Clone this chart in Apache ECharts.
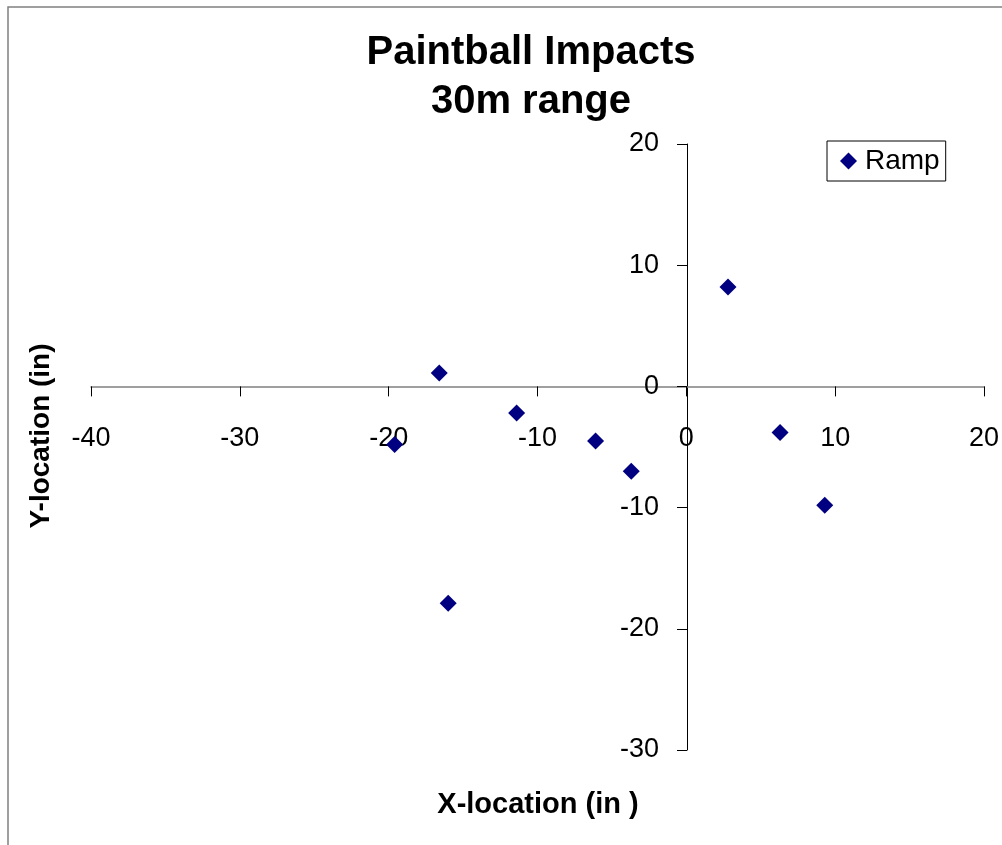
<!DOCTYPE html>
<html>
<head>
<meta charset="utf-8">
<script src="https://cdn.jsdelivr.net/npm/echarts@6/dist/echarts.min.js"></script>
<style>
  html, body { margin: 0; padding: 0; background: #fff; }
  #chart { width: 1002px; height: 845px; }
</style>
</head>
<body>
<div id="chart"></div>
<script>
const seriesName = 'Ramp';
const xValues = [2.8, -16.6, -11.4, -19.6, -6.1, -3.7, 6.3, 9.3, -16.0];
const yValues = [8.2, 1.1, -2.2, -4.8, -4.5, -7.0, -3.8, -9.8, -17.9];
const xTicks = [-40, -30, -20, -10, 0, 10, 20];
const yTicks = [-30, -20, -10, 0, 10, 20];

const font = "'Liberation Sans', Arial, sans-serif";
const points = xValues.map((x, i) => [x, yValues[i]]);

// grid box in pixels; the axes are shifted in to cross at zero
const grid = {left: 91, right: 17, top: 144, bottom: 95};
const plotW = 1002 - grid.left - grid.right;
const plotH = 845 - grid.top - grid.bottom;
const xZeroOffset = -plotW * (0 - xTicks[0]) / (xTicks[xTicks.length - 1] - xTicks[0]);
const yZeroOffset = -plotH * (0 - yTicks[0]) / (yTicks[yTicks.length - 1] - yTicks[0]);

const chart = echarts.init(document.getElementById('chart'), null, {renderer: 'canvas'});
chart.setOption({
  animation: false,
  backgroundColor: '#fff',
  title: {
    text: 'Paintball Impacts\n30m range',
    left: 526,
    top: 23,
    textAlign: 'center',
    textStyle: {fontFamily: font, fontSize: 40, fontWeight: 'bold', color: '#000', lineHeight: 49},
  },
  legend: {
    left: 827,
    top: 141,
    orient: 'vertical',
    padding: [6, 6, 6, 13],
    borderColor: '#000',
    borderWidth: 1,
    itemWidth: 17,
    itemHeight: 17,
    icon: 'diamond',
    textStyle: {fontFamily: font, fontSize: 28, color: '#000', padding: [0, 0, 0, 3]},
    data: [seriesName],
  },
  grid: Object.assign({containLabel: false}, grid),
  xAxis: {
    type: 'value',
    min: xTicks[0],
    max: xTicks[xTicks.length - 1],
    interval: 10,
    position: 'bottom',
    offset: yZeroOffset,
    splitLine: {show: false},
    axisLine: {onZero: false, lineStyle: {color: '#808080', width: 1.5}},
    axisTick: {show: true, length: 10, lineStyle: {color: '#000'}},
    axisLabel: {fontFamily: font, fontSize: 27, color: '#000', margin: 39},
  },
  yAxis: {
    type: 'value',
    min: yTicks[0],
    max: yTicks[yTicks.length - 1],
    interval: 10,
    position: 'left',
    offset: xZeroOffset,
    splitLine: {show: false},
    axisLine: {onZero: false, lineStyle: {color: '#000', width: 1}},
    axisTick: {show: true, length: 10, lineStyle: {color: '#000'}},
    axisLabel: {fontFamily: font, fontSize: 27, color: '#000', margin: 28},
  },
  graphic: [
    {
      type: 'rect',
      shape: {x: 8, y: 7, width: 1200, height: 1200},
      style: {fill: null, stroke: '#808080', lineWidth: 1.5},
      silent: true,
    },
    {
      type: 'text',
      x: 538,
      y: 805,
      style: {text: 'X-location (in )', font: 'bold 29px ' + font, fill: '#000', align: 'center', verticalAlign: 'middle'},
    },
    {
      type: 'text',
      x: 41,
      y: 436,
      rotation: Math.PI / 2,
      style: {text: 'Y-location (in)', font: 'bold 28px ' + font, fill: '#000', align: 'center', verticalAlign: 'middle'},
    },
  ],
  series: [{
    name: seriesName,
    type: 'scatter',
    symbol: 'diamond',
    symbolSize: 17,
    itemStyle: {color: '#000080', opacity: 1},
    data: points,
  }],
});
</script>
</body>
</html>
